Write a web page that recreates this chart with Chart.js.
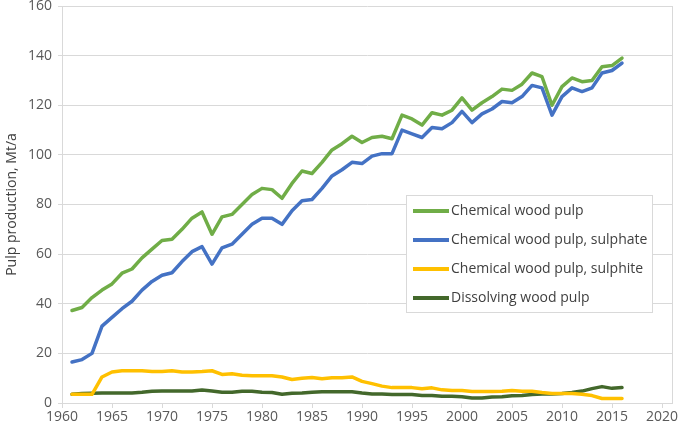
<!DOCTYPE html>
<html>
<head>
<meta charset="utf-8">
<script src="https://cdn.jsdelivr.net/npm/chart.js"></script>
<style>
  html, body { margin: 0; padding: 0; background: #fff; }
  #wrap { width: 685px; height: 429px; position: relative; }
</style>
</head>
<body>
<div id="wrap"><canvas id="chart"></canvas></div>
<script>
// Pulp production 1961-2016, Mt/a
const years = [1961, 1962, 1963, 1964, 1965, 1966, 1967, 1968, 1969, 1970,
  1971, 1972, 1973, 1974, 1975, 1976, 1977, 1978, 1979, 1980,
  1981, 1982, 1983, 1984, 1985, 1986, 1987, 1988, 1989, 1990,
  1991, 1992, 1993, 1994, 1995, 1996, 1997, 1998, 1999, 2000,
  2001, 2002, 2003, 2004, 2005, 2006, 2007, 2008, 2009, 2010,
  2011, 2012, 2013, 2014, 2015, 2016];

const chemical = [37.3, 38.5, 42.5, 45.5, 48, 52.3, 54, 58.5, 62, 65.5,
  66, 70, 74.5, 77, 68, 75, 76, 80, 84, 86.5,
  86, 82.5, 88.5, 93.5, 92.5, 97, 102, 104.5, 107.5, 105,
  107, 107.5, 106.5, 116, 114.5, 112, 117, 116, 118, 123,
  118, 121, 123.5, 126.5, 126, 128.5, 133, 131.5, 120, 127.5,
  131, 129.5, 130, 135.5, 136, 139];

const sulphate = [16.5, 17.5, 20, 31, 34.5, 38, 41, 45.5, 49, 51.5,
  52.5, 57, 61, 63, 56, 62.5, 64, 68, 72, 74.5,
  74.5, 72, 77.5, 81.5, 82, 86.5, 91.5, 94, 97, 96.5,
  99.5, 100.5, 100.5, 110, 108.5, 107, 111, 110.5, 113, 117.5,
  113, 116.5, 118.5, 121.5, 121, 123.5, 128, 127, 116, 123.5,
  127, 125.5, 127, 133, 134, 137];

const sulphite = [3.5, 3.5, 3.5, 10.5, 12.5, 13, 13, 13, 12.7, 12.7,
  13, 12.5, 12.5, 12.7, 13, 11.5, 11.8, 11.2, 11, 11,
  11, 10.5, 9.5, 10, 10.3, 9.8, 10.2, 10.2, 10.5, 8.7,
  7.8, 6.8, 6.2, 6.2, 6.2, 5.7, 6.1, 5.3, 5, 5,
  4.6, 4.6, 4.6, 4.7, 5, 4.7, 4.7, 4.2, 3.8, 3.8,
  3.8, 3.5, 3, 1.8, 1.8, 1.8];

const dissolving = [3.5, 3.8, 3.9, 4, 4, 4, 4, 4.3, 4.7, 4.8,
  4.8, 4.8, 4.8, 5.2, 4.8, 4.3, 4.3, 4.7, 4.7, 4.3,
  4.2, 3.5, 3.9, 4, 4.3, 4.5, 4.5, 4.5, 4.5, 4,
  3.6, 3.6, 3.4, 3.4, 3.4, 3, 3, 2.7, 2.7, 2.5,
  2, 2, 2.4, 2.5, 2.9, 3, 3.4, 3.6, 3.6, 3.8,
  4.2, 4.8, 5.8, 6.6, 5.9, 6.2];

const seriesNames = ['Chemical wood pulp', 'Chemical wood pulp, sulphate',
  'Chemical wood pulp, sulphite', 'Dissolving wood pulp'];
const seriesColors = ['#70AD47', '#4472C4', '#FFC000', '#43682B'];
const seriesValues = [chemical, sulphate, sulphite, dissolving];

const xTicks = [1960, 1965, 1970, 1975, 1980, 1985, 1990, 1995, 2000, 2005, 2010, 2015, 2020];
const yTicks = [0, 20, 40, 60, 80, 100, 120, 140, 160];

const FONT = '"Open Sans", "Noto Sans", sans-serif';

function toPoints(vals) {
  return vals.map((v, i) => ({ x: years[i], y: v }));
}

// right border of the plot area + legend box inside the plot
const boxPlugin = {
  id: 'boxPlugin',
  beforeDatasetsDraw(chart) {
    const { ctx, chartArea } = chart;
    ctx.save();
    ctx.strokeStyle = '#d9d9d9';
    ctx.lineWidth = 1;
    ctx.beginPath();
    ctx.moveTo(Math.round(chartArea.right) + 0.5, chartArea.top);
    ctx.lineTo(Math.round(chartArea.right) + 0.5, chartArea.bottom);
    ctx.stroke();
    ctx.restore();
  },
  afterDraw(chart) {
    const { ctx } = chart;
    const bx = 406, by = 195, bw = 246, bh = 117;
    ctx.save();
    ctx.fillStyle = '#ffffff';
    ctx.fillRect(bx, by, bw, bh);
    ctx.strokeStyle = '#d9d9d9';
    ctx.lineWidth = 1;
    ctx.strokeRect(bx + 0.5, by + 0.5, bw, bh);
    ctx.font = '14px ' + FONT;
    ctx.textBaseline = 'middle';
    ctx.fillStyle = '#404040';
    chart.data.datasets.forEach((ds, i) => {
      const y = 211 + i * 29;
      ctx.strokeStyle = ds.borderColor;
      ctx.lineWidth = 4;
      ctx.beginPath();
      ctx.moveTo(413, y);
      ctx.lineTo(449, y);
      ctx.stroke();
      ctx.fillText(ds.label, 451, y);
    });
    ctx.restore();
  }
};

new Chart(document.getElementById('chart'), {
  type: 'line',
  data: {
    datasets: seriesNames.map((name, i) => ({
      label: name,
      data: toPoints(seriesValues[i]),
      borderColor: seriesColors[i],
      backgroundColor: seriesColors[i],
      borderWidth: 3.5,
      pointRadius: 0,
      tension: 0,
      borderJoinStyle: 'round',
      borderCapStyle: 'round'
    }))
  },
  options: {
    responsive: true,
    maintainAspectRatio: false,
    animation: false,
    layout: { padding: { left: 0, right: 13, top: 6, bottom: 0 } },
    plugins: {
      legend: { display: false },
      tooltip: { enabled: false }
    },
    scales: {
      x: {
        type: 'linear',
        min: 1960,
        max: 2021,
        afterBuildTicks(scale) {
          scale.ticks = xTicks.map(v => ({ value: v }));
        },
        ticks: {
          color: '#595959',
          font: { family: FONT, size: 14 },
          padding: 1,
          maxRotation: 0,
          callback: v => String(v)
        },
        grid: {
          drawOnChartArea: false,
          drawTicks: true,
          tickLength: 5,
          color: '#d9d9d9'
        },
        border: { color: '#d9d9d9' },
        afterFit(scale) { scale.height = 26; }
      },
      y: {
        min: 0,
        max: 160,
        afterBuildTicks(scale) {
          scale.ticks = yTicks.map(v => ({ value: v }));
        },
        ticks: {
          color: '#595959',
          font: { family: FONT, size: 14 },
          padding: 6
        },
        grid: {
          color: '#d9d9d9',
          tickLength: 4
        },
        border: { color: '#d9d9d9' },
        title: {
          display: true,
          text: 'Pulp production, Mt/a',
          color: '#404040',
          font: { family: FONT, size: 14 },
          padding: { top: 4, bottom: 0 }
        },
        afterFit(scale) {
          scale.width = 62;
          scale.paddingTop = 0;
          scale.paddingBottom = 0;
        }
      }
    }
  },
  plugins: [boxPlugin]
});
</script>
</body>
</html>
